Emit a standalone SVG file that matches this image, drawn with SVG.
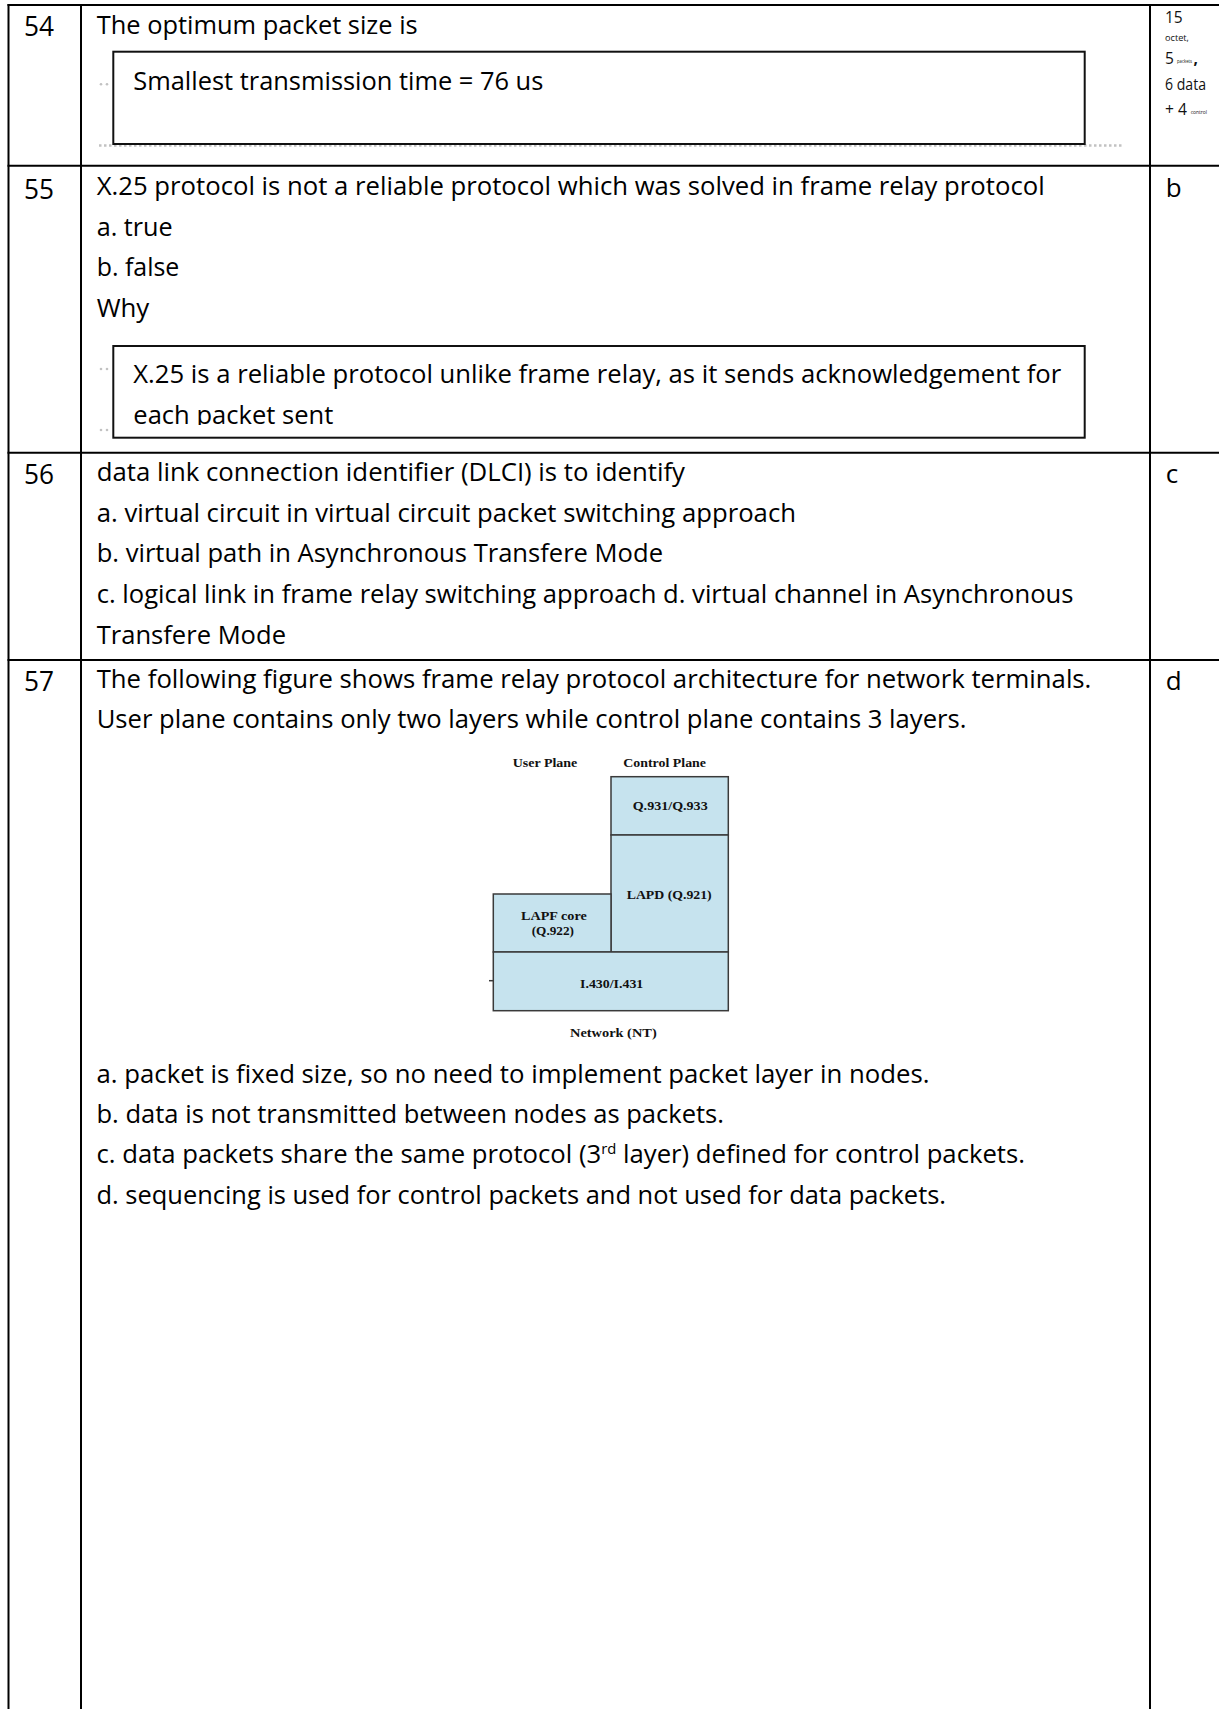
<svg xmlns="http://www.w3.org/2000/svg" width="1219" height="1709" viewBox="0 0 1219 1709">
<style>
.t{font-family:"Open Sans","Liberation Sans",sans-serif;font-size:26px;fill:#000}
.n{font-family:"Open Sans","Liberation Sans",sans-serif;font-size:28px;fill:#000}
.s{font-family:"Open Sans","Liberation Sans",sans-serif;fill:#111}
.ln{stroke:#000;stroke-width:2;fill:none}
.box{fill:#fff;stroke:#111;stroke-width:2}
.dot{stroke:#c2c2c2;stroke-width:2.5;stroke-dasharray:2.5 2.5;fill:none}
.dc{fill:#c2c2c2}
.fig{fill:#c6e3ee;stroke:#3a3a3a;stroke-width:1.5}
.ft{font-family:"Liberation Serif","Times New Roman",serif;font-weight:bold;font-size:12.5px;fill:#111;text-anchor:start}
</style>
<defs>
<clipPath id="clip55"><rect x="114" y="347" width="970" height="78"/></clipPath>
</defs>
<rect width="1219" height="1709" fill="#fff"/>

<g id="table-lines">
<line class="ln" x1="7.5" y1="5" x2="1219" y2="5"/>
<line class="ln" x1="8.5" y1="4" x2="8.5" y2="1709"/>
<line class="ln" x1="81" y1="4" x2="81" y2="1709"/>
<line class="ln" x1="1150" y1="4" x2="1150" y2="1709"/>
<line class="ln" x1="7.5" y1="165.7" x2="1219" y2="165.7"/>
<line class="ln" x1="7.5" y1="452.7" x2="1219" y2="452.7"/>
<line class="ln" x1="7.5" y1="660" x2="1219" y2="660"/>
</g>

<g id="q54">
<text class="n" x="24" y="36" textLength="30" lengthAdjust="spacingAndGlyphs">54</text>
<text class="t" x="96.7" y="34" textLength="321" lengthAdjust="spacingAndGlyphs">The optimum packet size is</text>
<line class="dot" x1="99" y1="145.5" x2="1122" y2="145.5"/>
<circle class="dc" cx="101" cy="84.3" r="1.3"/>
<circle class="dc" cx="107" cy="84.3" r="1.3"/>
<rect class="box" x="113.3" y="51.7" width="971.4" height="92.3"/>
<text class="t" x="133.3" y="90" textLength="410" lengthAdjust="spacingAndGlyphs">Smallest transmission time = 76 us</text>
</g>
<g id="a54">
<text class="s" x="1165" y="23.3" font-size="15.5">15</text>
<text class="s" x="1165" y="40.7" font-size="9" textLength="24" lengthAdjust="spacingAndGlyphs">octet,</text>
<text class="s" x="1165" y="64" font-size="15.5">5</text>
<text class="s" x="1177" y="63.3" font-size="4.8" textLength="15" lengthAdjust="spacingAndGlyphs">packets</text>
<text class="s" x="1193.5" y="64" font-size="15.5" font-weight="bold">,</text>
<text class="s" x="1165" y="90" font-size="15.5" textLength="41" lengthAdjust="spacingAndGlyphs">6 data</text>
<text class="s" x="1165" y="115" font-size="15.5" textLength="22" lengthAdjust="spacingAndGlyphs">+ 4</text>
<text class="s" x="1190.7" y="114" font-size="5" textLength="16.3" lengthAdjust="spacingAndGlyphs">control</text>
</g>

<g id="q55">
<text class="n" x="24" y="198.5" textLength="30" lengthAdjust="spacingAndGlyphs">55</text>
<text class="t" x="96.7" y="195" textLength="948" lengthAdjust="spacingAndGlyphs">X.25 protocol is not a reliable protocol which was solved in frame relay protocol</text>
<text class="t" x="96.7" y="235.7" textLength="76" lengthAdjust="spacingAndGlyphs">a. true</text>
<text class="t" x="96.7" y="276.4" textLength="82.6" lengthAdjust="spacingAndGlyphs">b. false</text>
<text class="t" x="96.7" y="317" textLength="52.6" lengthAdjust="spacingAndGlyphs">Why</text>
<circle class="dc" cx="101" cy="369" r="1.3"/>
<circle class="dc" cx="107" cy="369" r="1.3"/>
<circle class="dc" cx="101" cy="430" r="1.3"/>
<circle class="dc" cx="107" cy="430" r="1.3"/>
<rect class="box" x="113.3" y="346" width="971.4" height="91.7"/>
<g clip-path="url(#clip55)">
<text class="t" x="133.3" y="382.7" textLength="928" lengthAdjust="spacingAndGlyphs">X.25 is a reliable protocol unlike frame relay, as it sends acknowledgement for</text>
<text class="t" x="133.3" y="423.5" textLength="200" lengthAdjust="spacingAndGlyphs">each packet sent</text>
</g>
</g>
<g id="a55"><text class="t" x="1165.7" y="196.7">b</text></g>

<g id="q56">
<text class="n" x="24" y="483.5" textLength="30" lengthAdjust="spacingAndGlyphs">56</text>
<text class="t" x="96.7" y="481" textLength="588.3" lengthAdjust="spacingAndGlyphs">data link connection identifier (DLCI) is to identify</text>
<text class="t" x="96.7" y="521.7" textLength="699.3" lengthAdjust="spacingAndGlyphs">a. virtual circuit in virtual circuit packet switching approach</text>
<text class="t" x="96.7" y="562.4" textLength="566.3" lengthAdjust="spacingAndGlyphs">b. virtual path in Asynchronous Transfere Mode</text>
<text class="t" x="96.7" y="603" textLength="976.8" lengthAdjust="spacingAndGlyphs">c. logical link in frame relay switching approach d. virtual channel in Asynchronous</text>
<text class="t" x="96.7" y="643.8" textLength="189.3" lengthAdjust="spacingAndGlyphs">Transfere Mode</text>
</g>
<g id="a56"><text class="t" x="1165.7" y="483">c</text></g>

<g id="q57">
<text class="n" x="24" y="690.5" textLength="30" lengthAdjust="spacingAndGlyphs">57</text>
<text class="t" x="96.7" y="687.5" textLength="994.7" lengthAdjust="spacingAndGlyphs">The following figure shows frame relay protocol architecture for network terminals.</text>
<text class="t" x="96.7" y="728.2" textLength="869.8" lengthAdjust="spacingAndGlyphs">User plane contains only two layers while control plane contains 3 layers.</text>
<text class="t" x="96.5" y="1082.5" textLength="833" lengthAdjust="spacingAndGlyphs">a. packet is fixed size, so no need to implement  packet layer in nodes.</text>
<text class="t" x="96.5" y="1123" textLength="627.5" lengthAdjust="spacingAndGlyphs">b. data is not transmitted between nodes as packets.</text>
<text class="t" x="96.5" y="1163.3" textLength="928.5" lengthAdjust="spacingAndGlyphs">c. data packets share the same protocol (3<tspan font-size="15" dy="-9">rd</tspan><tspan dy="9"> layer) defined for control packets.</tspan></text>
<text class="t" x="96.5" y="1203.5" textLength="849.5" lengthAdjust="spacingAndGlyphs">d. sequencing is used for control packets and not used for data packets.</text>
</g>
<g id="a57"><text class="t" x="1165.7" y="690">d</text></g>

<g id="figure">
<g id="user-plane-label"><text class="ft" x="512.7" y="766.5" textLength="64.6" lengthAdjust="spacingAndGlyphs">User Plane</text></g>
<g id="control-plane-label"><text class="ft" x="623.3" y="766.5" textLength="82.7" lengthAdjust="spacingAndGlyphs">Control Plane</text></g>
<g id="q931"><rect class="fig" x="611" y="776.7" width="117.3" height="58.3"/><text class="ft" x="632.7" y="810" textLength="75" lengthAdjust="spacingAndGlyphs">Q.931/Q.933</text></g>
<g id="lapd"><rect class="fig" x="611" y="835" width="117.3" height="117"/><text class="ft" x="626.7" y="899.3" textLength="85" lengthAdjust="spacingAndGlyphs">LAPD (Q.921)</text></g>
<g id="lapf"><rect class="fig" x="493.3" y="894" width="117.7" height="58"/><text class="ft" x="521" y="920" textLength="65.7" lengthAdjust="spacingAndGlyphs">LAPF core</text><text class="ft" x="531.7" y="935" textLength="42.3" lengthAdjust="spacingAndGlyphs">(Q.922)</text></g>
<g id="i430"><rect class="fig" x="493.3" y="952" width="235" height="58.7"/><text class="ft" x="580" y="988.3" textLength="63.3" lengthAdjust="spacingAndGlyphs">I.430/I.431</text></g>
<line x1="489" y1="980.7" x2="493.3" y2="980.7" stroke="#3a3a3a" stroke-width="1.5"/>
<g id="network-label"><text class="ft" x="570" y="1036.7" textLength="86.7" lengthAdjust="spacingAndGlyphs">Network (NT)</text></g>
</g>
</svg>
